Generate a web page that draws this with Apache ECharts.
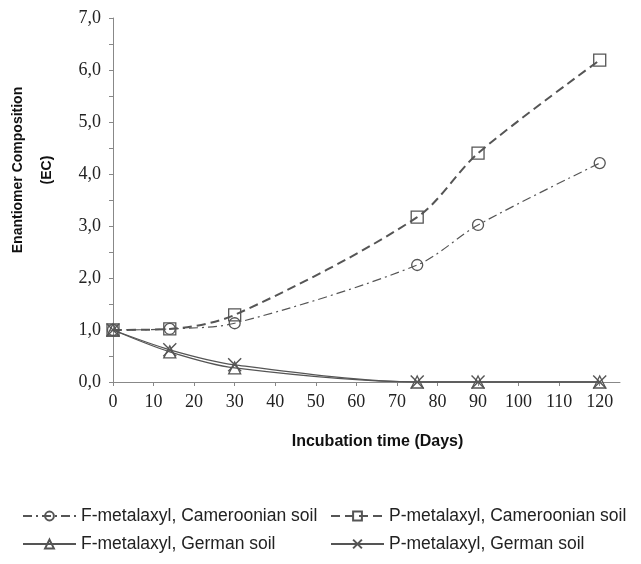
<!DOCTYPE html>
<html>
<head>
<meta charset="utf-8">
<script src="https://cdn.jsdelivr.net/npm/echarts@6/dist/echarts.min.js"></script>
<style>html,body{margin:0;padding:0;background:#fff}#c{width:641px;height:564px}</style>
</head>
<body>
<div id="c"></div>
<script>
var days = [0, 14, 30, 75, 90, 120];
var fCameroon = [1.0, 1.02, 1.13, 2.25, 3.02, 4.21];
var pCameroon = [1.0, 1.02, 1.29, 3.17, 4.40, 6.19];
var fGerman = [1.0, 0.58, 0.27, 0.0, 0.0, 0.0];
var pGerman = [1.0, 0.62, 0.33, 0.0, 0.0, 0.0];
var xTicks = [0, 10, 20, 30, 40, 50, 60, 70, 80, 90, 100, 110, 120];
var seriesNames = ['F-metalaxyl, Cameroonian soil', 'P-metalaxyl, Cameroonian soil', 'F-metalaxyl, German soil', 'P-metalaxyl, German soil'];

function pairs(vals){ return days.map(function(d,i){ return [d, vals[i]]; }); }

var gray = '#555';
var markStyle = {color: 'rgba(0,0,0,0)', borderColor: gray, borderWidth: 1.3};
var legendText = {fontFamily: 'Liberation Sans, Arial', fontSize: 17.5, color: '#222'};
var chart = echarts.init(document.getElementById('c'));
chart.setOption({
  animation: false,
  grid: {left: 113, right: 21, top: 18, bottom: 182},
  xAxis: {
    type: 'value', min: 0, max: 125,
    name: 'Incubation time (Days)', nameLocation: 'middle', nameGap: 52,
    nameTextStyle: {fontFamily: 'Liberation Sans, Arial', fontWeight: 'bold', fontSize: 16, color: '#111', padding: [0, 0, 0, 22]},
    axisLine: {lineStyle: {color: '#888', width: 1}},
    axisTick: {show: true, length: 4, customValues: xTicks, lineStyle: {color: '#888'}},
    axisLabel: {customValues: xTicks, margin: 11, fontFamily: 'Liberation Serif, Times New Roman', fontSize: 18, color: '#222'},
    splitLine: {show: false}
  },
  yAxis: {
    type: 'value', min: 0, max: 7, interval: 1,
    axisLine: {show: true, lineStyle: {color: '#888', width: 1}},
    axisTick: {show: true, length: 4, lineStyle: {color: '#888'}},
    minorTick: {show: true, splitNumber: 2, length: 4, lineStyle: {color: '#888'}},
    axisLabel: {margin: 12, fontFamily: 'Liberation Serif, Times New Roman', fontSize: 18, color: '#222',
      formatter: function(v){ return v.toFixed(1).replace('.', ','); }},
    splitLine: {show: false}
  },
  graphic: [{
    type: 'text', x: 33, y: 170, rotation: Math.PI / 2,
    style: {text: 'Enantiomer Composition\n(EC)', align: 'center', verticalAlign: 'middle', lineHeight: 29,
      fontFamily: 'Liberation Sans, Arial', fontWeight: 'bold', fontSize: 14, fill: '#111'}
  }],
  legend: [{
    data: [seriesNames[0], seriesNames[2]], orient: 'vertical', left: 17, top: 502, itemGap: 10,
    itemWidth: 53, itemHeight: 11, textStyle: legendText
  }, {
    data: [seriesNames[1], seriesNames[3]], orient: 'vertical', left: 325, top: 502, itemGap: 10,
    itemWidth: 53, itemHeight: 11, textStyle: legendText
  }],
  series: [{
    name: seriesNames[0], type: 'line', data: pairs(fCameroon), smooth: 0.3,
    symbol: 'circle', symbolSize: 11,
    itemStyle: markStyle,
    lineStyle: {color: gray, width: 1.2, type: [9, 4, 2, 4]}
  }, {
    name: seriesNames[1], type: 'line', data: pairs(pCameroon), smooth: 0.3,
    symbol: 'rect', symbolSize: 12,
    itemStyle: markStyle,
    lineStyle: {color: gray, width: 2, type: [9, 5]}
  }, {
    name: seriesNames[2], type: 'line', data: pairs(fGerman), smooth: 0.3,
    symbol: 'triangle', symbolSize: 12,
    itemStyle: markStyle,
    lineStyle: {color: gray, width: 1.3, type: 'solid'}
  }, {
    name: seriesNames[3], type: 'line', data: pairs(pGerman), smooth: 0.3,
    symbol: 'path://M0,0L10,10M10,0L0,10', symbolSize: 13,
    itemStyle: {color: 'rgba(0,0,0,0)', borderColor: gray, borderWidth: 1.4},
    lineStyle: {color: gray, width: 1.3, type: 'solid'}
  }]
});
</script>
</body>
</html>
